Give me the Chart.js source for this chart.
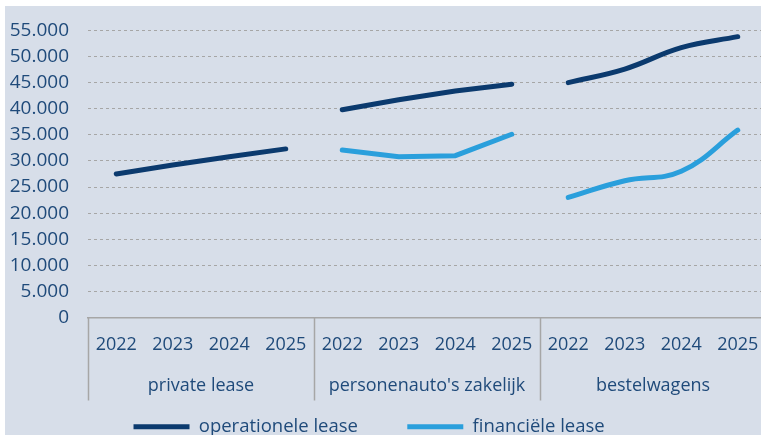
<!DOCTYPE html>
<html>
<head>
<meta charset="utf-8">
<script src="https://cdn.jsdelivr.net/npm/chart.js@4"></script>
<style>
  html, body { margin: 0; padding: 0; background: #fff; overflow: hidden; }
</style>
</head>
<body>
<canvas id="chart" width="770" height="435"></canvas>
<script>
const years = ['2022', '2023', '2024', '2025'];
const groups = ['private lease', "personenauto's zakelijk", 'bestelwagens'];
const operationeleLease = [27500, 29200, 30800, 32300, 39800, 41700, 43400, 44700, 45000, 47600, 51700, 53800];
const financieleLease = [null, null, null, null, 32100, 30800, 31000, 35100, 23000, 26200, 28000, 35900];
const yMax = 55000;
const yStep = 5000;

const darkBlue = '#0b3a6e';
const lightBlue = '#2a9fdc';
const textColor = '#1f4a7a';
const gridColor = '#a6a6a6';
const font = '"Open Sans", sans-serif';
// bestelwagens is drawn smoothed in the original, the rest straight
const groupTension = [0, 0, 0.4];
// extra room after each legend text, to space the entries like the original
const legendTail = ['\u2003\u2003\u2002\u2009', '\u2003\u2002'];

// one label per point, e.g. 2022..2025 repeated for every group
const labels = groups.flatMap(() => years);

// every group is its own dataset so the line breaks between groups
function seriesSets(label, values, color) {
    return groups.map((g, gi) => ({
        label: label,
        data: values.map((v, i) => Math.floor(i / years.length) === gi ? v : null),
        borderColor: color,
        backgroundColor: color,
        borderWidth: 5,
        borderCapStyle: 'round',
        pointRadius: 0,
        pointStyle: 'line',
        tension: groupTension[gi],
        spanGaps: false,
        inLegend: gi === 1
    }));
}

const groupLines = {
    id: 'groupLines',
    beforeDraw(chart) {
        const ctx = chart.ctx;
        ctx.save();
        ctx.fillStyle = '#d7dee9';
        ctx.fillRect(5, 6, chart.width, chart.height);
        ctx.restore();
    },
    afterDraw(chart) {
        const { ctx, scales: { x } } = chart;
        const perGroup = (x.right - x.left) / groups.length;
        ctx.save();
        ctx.strokeStyle = gridColor;
        ctx.lineWidth = 1.5;
        for (let g = 0; g <= groups.length; g++) {
            const px = Math.round(x.left + g * perGroup) + 0.5;
            ctx.beginPath();
            ctx.moveTo(px, x.top);
            ctx.lineTo(px, x.top + 83);
            ctx.stroke();
        }
        ctx.restore();
    }
};

new Chart(document.getElementById('chart'), {
    type: 'line',
    data: {
        labels: labels,
        datasets: [
            ...seriesSets('operationele lease', operationeleLease, darkBlue),
            ...seriesSets('financiële lease', financieleLease, lightBlue)
        ]
    },
    options: {
        responsive: false,
        animation: false,
        layout: { padding: { top: 29, right: 4, bottom: -11, left: 0 } },
        plugins: {
            legend: {
                position: 'bottom',
                labels: {
                    generateLabels: (chart) => {
                        const items = Chart.defaults.plugins.legend.labels.generateLabels(chart)
                            .filter((it) => chart.data.datasets[it.datasetIndex].inLegend);
                        items.forEach((it, i) => { it.text = it.text + legendTail[i]; });
                        return items;
                    },
                    usePointStyle: true,
                    pointStyleWidth: 56,
                    padding: 0,
                    color: textColor,
                    font: { family: font, size: 18.5 }
                }
            },
            tooltip: { enabled: false }
        },
        scales: {
            x: {
                offset: true,
                grid: { display: false },
                border: { display: true, color: gridColor, width: 1.5 },
                ticks: {
                    color: textColor,
                    font: { family: font, size: 18 },
                    padding: 9,
                    maxRotation: 0,
                    autoSkip: false
                },
                afterFit: (s) => { s.height = 42; }
            },
            x2: {
                type: 'category',
                labels: groups,
                position: 'bottom',
                offset: true,
                grid: { display: false },
                border: { display: false },
                ticks: {
                    color: textColor,
                    font: { family: font, size: 18 },
                    padding: 8,
                    maxRotation: 0,
                    autoSkip: false
                },
                afterFit: (s) => { s.height = 58; }
            },
            y: {
                min: 0,
                max: yMax,
                grid: {
                    color: (c) => c.tick && c.tick.value === 0 ? 'rgba(0,0,0,0)' : gridColor,
                    lineWidth: 1,
                    drawTicks: false
                },
                border: { display: false, dash: [3, 3] },
                ticks: {
                    stepSize: yStep,
                    color: textColor,
                    font: { family: font, size: 19 },
                    padding: 19,
                    callback: (v) => String(v).replace(/\B(?=(\d{3})+(?!\d))/g, '.')
                },
                afterFit: (s) => { s.width = 88; }
            }
        }
    },
    plugins: [groupLines]
});
</script>
</body>
</html>
